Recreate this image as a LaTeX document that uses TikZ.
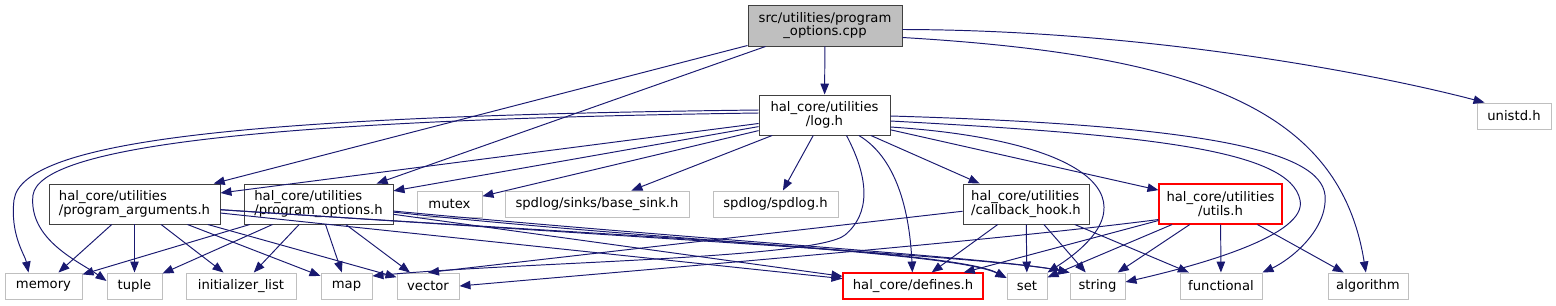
\documentclass[tikz,border=0pt]{standalone}
\usepackage{fontspec}
\setmainfont{DejaVu Sans}
\usetikzlibrary{arrows.meta,calc}
\definecolor{edgeblue}{HTML}{191970}
\definecolor{boxgray}{HTML}{BFBFBF}
\definecolor{boxred}{HTML}{FF0000}
\begin{document}
\begin{tikzpicture}[x=0.02cm,y=-0.02cm,font=\fontsize{7.5}{7.9}\selectfont,
  gbox/.style={draw,inner sep=0pt,line width=0.55pt},
  srcbox/.style={gbox,draw=black!75,fill=boxgray},
  hdrbox/.style={gbox,draw=black!75,fill=white,minimum height=0.8cm},
  sysbox/.style={gbox,draw=boxgray,minimum height=0.52cm},
  redbox/.style={gbox,draw=boxred,line width=0.6pt},
  dep/.style={draw=edgeblue,line width=0.55pt,-{Triangle[length=0.22cm,width=0.17cm]}}]
\useasboundingbox (0,0) rectangle (1556,305);
\node[srcbox,minimum width=3.08cm,minimum height=0.82cm,align=center] (src) at (825,25.5) {src/utilities/program\\\_options.cpp};
\node[hdrbox,minimum width=2.62cm,align=center] (logh) at (824.5,115) {hal\_core/utilities\\/log.h};
\node[sysbox,minimum width=1.48cm] (unistd) at (1514,116) {unistd.h};
\node[hdrbox,minimum width=3.42cm,align=left] (progargs) at (134.5,204) {hal\_core/utilities\\/program\_arguments.h};
\node[hdrbox,minimum width=2.98cm,align=left] (progopts) at (318.5,204) {hal\_core/utilities\\/program\_options.h};
\node[sysbox,minimum width=1.3cm] (mutex) at (449.5,204) {mutex};
\node[sysbox,minimum width=3.68cm] (basesink) at (597,204) {spdlog/sinks/base\_sink.h};
\node[sysbox,minimum width=2.5cm] (spdlog) at (775.5,204) {spdlog/spdlog.h};
\node[hdrbox,minimum width=2.52cm,align=left] (cbhook) at (1026,204) {hal\_core/utilities\\/callback\_hook.h};
\node[redbox,minimum width=2.46cm,minimum height=0.8cm,align=center] (utils) at (1220.5,204) {hal\_core/utilities\\/utils.h};
\node[sysbox,minimum width=1.54cm] (memory) at (43.5,286) {memory};
\node[sysbox,minimum width=1.1cm] (tuple) at (134.5,286) {tuple};
\node[sysbox,minimum width=2.2cm] (initlist) at (241,286) {initializer\_list};
\node[sysbox,minimum width=1.02cm] (map) at (346.5,286) {map};
\node[sysbox,minimum width=1.24cm] (vector) at (428,286) {vector};
\node[redbox,minimum width=2.8cm,minimum height=0.52cm] (defines) at (913,286) {hal\_core/defines.h};
\node[sysbox,minimum width=0.8cm] (set) at (1027,286) {set};
\node[sysbox,minimum width=1.1cm] (string) at (1097.5,286) {string};
\node[sysbox,minimum width=1.64cm] (functional) at (1221,286) {functional};
\node[sysbox,minimum width=1.6cm] (algorithm) at (1368,286) {algorithm};
\draw[dep] (src) -- (logh); \draw[dep] (src) -- (progargs); \draw[dep] (src) -- (progopts);
\draw[dep] ($(src.east)+(0,4)$) .. controls (1150,30) and (1380,75) .. ($(unistd.north west)+(8,0)$);
\draw[dep] ($(src.east)+(0,12)$) .. controls (1200,55) and (1340,110) .. (algorithm);
\draw[dep] ($(logh.west)+(0,-5)$) .. controls (250,116) and (22,140) .. (14,200) .. controls (10,235) and (25,255) .. ($(memory.north)+(-15,0)$);
\draw[dep] ($(logh.west)+(0,-2)$) .. controls (250,120) and (40,148) .. (33,195) .. controls (28,240) and (80,262) .. ($(tuple.west)+(0,-5)$);
\draw[dep] (logh) -- (progargs); \draw[dep] (logh) -- (progopts); \draw[dep] (logh) -- (mutex);
\draw[dep] (logh) -- (basesink); \draw[dep] (logh) -- (spdlog);
\draw[dep] ($(logh.south)+(22,0)$) .. controls (870,180) and (870,214) .. (845,235) .. controls (815,259) and (520,262) .. ($(map.east)+(0,-10)$);
\draw[dep] (logh) .. controls (900,160) and (910,220) .. (defines);
\draw[dep] (logh) -- (cbhook); \draw[dep] (logh) -- (utils);
\draw[dep] ($(logh.east)+(0,12)$) .. controls (1090,140) and (1160,200) .. (set.north east);
\draw[dep] ($(logh.east)+(0,6)$) .. controls (1150,135) and (1290,150) .. (1300,200) .. controls (1308,235) and (1200,265) .. ($(string.east)+(0,-4)$);
\draw[dep] ($(logh.east)+(0,1)$) .. controls (1200,125) and (1320,150) .. (1325,195) .. controls (1328,230) and (1290,260) .. (functional.north east);
\draw[dep] (progargs) -- (memory); \draw[dep] (progargs) -- (tuple); \draw[dep] (progargs) -- (initlist);
\draw[dep] (progargs) -- (map); \draw[dep] (progargs) -- (vector); \draw[dep] (progargs) -- (defines);
\draw[dep] (progargs) .. controls (600,235) and (955,250) .. ($(set.west)+(0,-8)$);
\draw[dep] (progargs) .. controls (650,238) and (1000,258) .. (string.north west);
\draw[dep] (progopts) -- (memory); \draw[dep] (progopts) -- (tuple); \draw[dep] (progopts) -- (initlist);
\draw[dep] (progopts) -- (map); \draw[dep] (progopts) -- (vector); \draw[dep] (progopts) -- (defines);
\draw[dep] (progopts) .. controls (650,240) and (955,252) .. ($(set.west)+(0,-8)$);
\draw[dep] (progopts) .. controls (700,240) and (1000,258) .. (string.north west);
\draw[dep] (cbhook) -- (vector.north); \draw[dep] (cbhook) -- (defines); \draw[dep] (cbhook) -- (set);
\draw[dep] (cbhook) -- (string); \draw[dep] (cbhook) -- (functional);
\draw[dep] ($(utils.south west)+(0,-5)$) .. controls (1000,240) and (700,265) .. (vector.east);
\draw[dep] (utils) -- (defines); \draw[dep] (utils) -- (set); \draw[dep] (utils) -- (string);
\draw[dep] (utils) -- (functional); \draw[dep] (utils) -- (algorithm);
\end{tikzpicture}
\end{document}
